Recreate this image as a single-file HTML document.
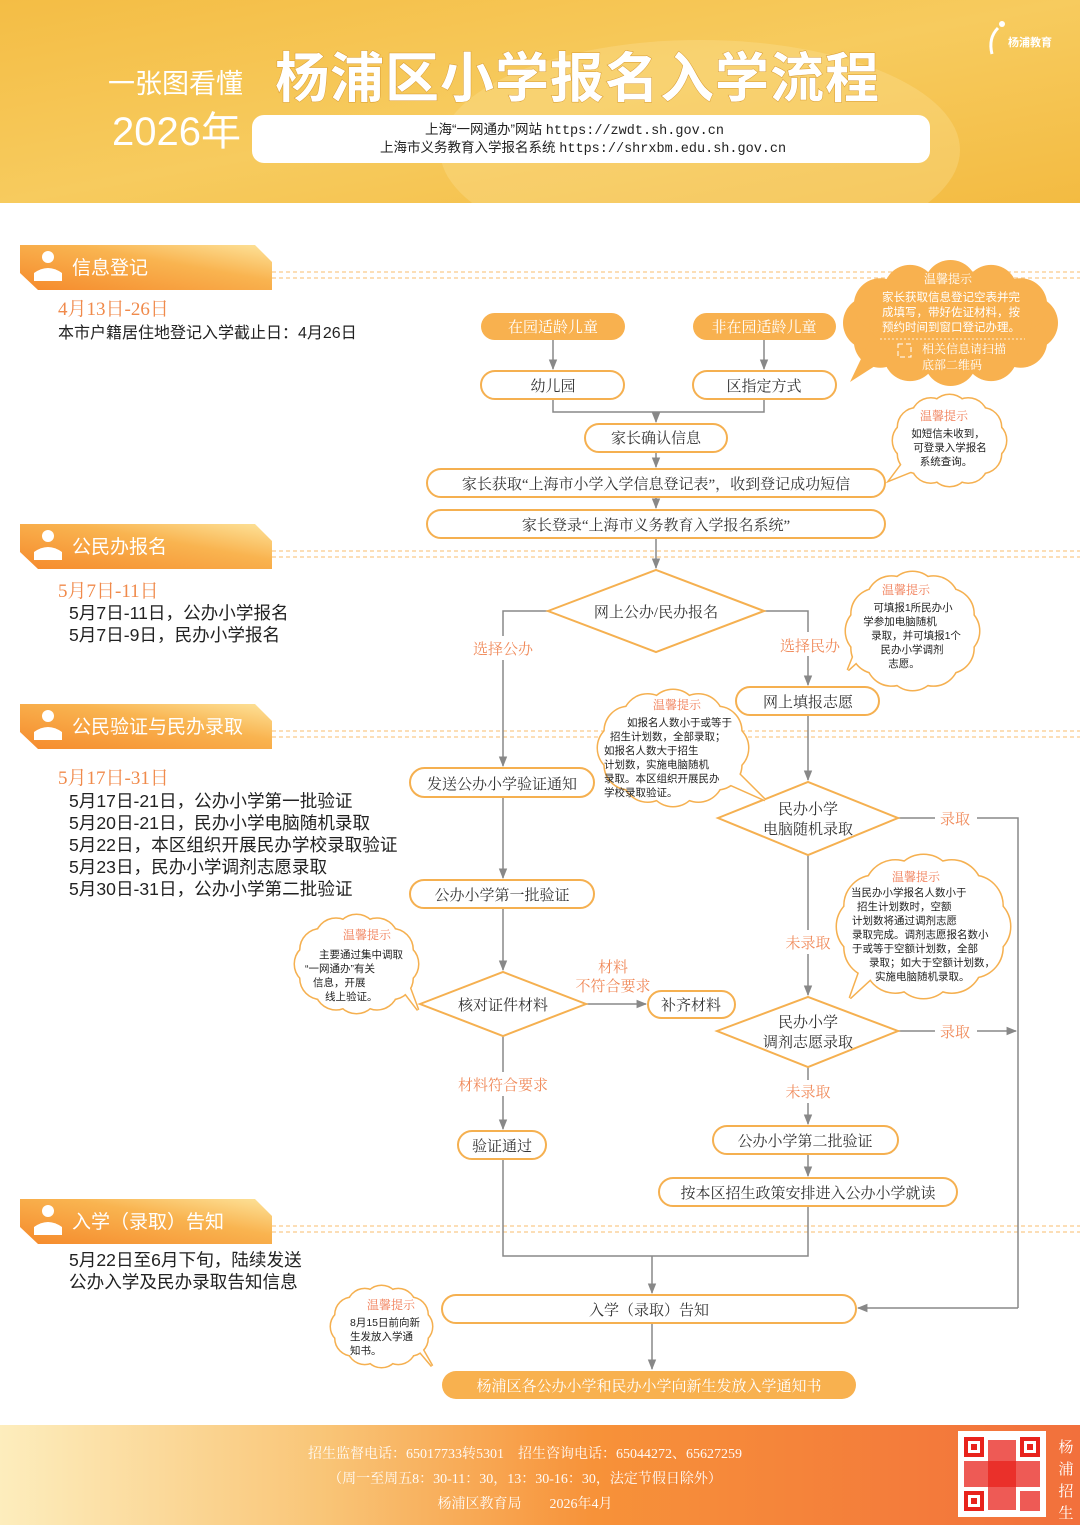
<!DOCTYPE html>
<html><head><meta charset="utf-8">
<style>
html,body{margin:0;padding:0;background:#fff;}
svg{display:block;}
.s{font-family:"Liberation Serif","Noto Serif CJK SC",serif;}
.k{font-family:"Liberation Sans","Noto Sans CJK SC",sans-serif;}
.n{font-size:15px;fill:#333;text-anchor:middle;}
.lab{font-size:15px;fill:#f08a5a;text-anchor:middle;}
.tip{font-size:12px;fill:#f07850;text-anchor:middle;}
.tt{font-size:10.5px;fill:#222;}
</style></head><body>
<svg width="1080" height="1525" viewBox="0 0 1080 1525" xmlns="http://www.w3.org/2000/svg">
<defs>
<linearGradient id="hdr" x1="0" y1="0" x2="1" y2="1">
<stop offset="0" stop-color="#f4bd45"/><stop offset="0.5" stop-color="#f7cb5e"/><stop offset="1" stop-color="#f3bb42"/></linearGradient>
<linearGradient id="ftr" x1="0" y1="0" x2="1" y2="0">
<stop offset="0" stop-color="#fdedbd"/><stop offset="0.3" stop-color="#f9c577"/><stop offset="0.55" stop-color="#f79239"/><stop offset="1" stop-color="#f2703c"/></linearGradient>
<linearGradient id="tab" x1="0" y1="1" x2="1" y2="0">
<stop offset="0" stop-color="#f58a2c"/><stop offset="0.6" stop-color="#f9b450"/><stop offset="1" stop-color="#fde39a"/></linearGradient>
<marker id="a" viewBox="0 0 10 10" refX="9" refY="5" markerWidth="7" markerHeight="7" orient="auto"><path d="M0,1 L10,5 L0,9 z" fill="#888"/></marker>
<clipPath id="hc"><rect x="0" y="0" width="1080" height="203"/></clipPath>
</defs>

<!-- header -->
<rect x="0" y="0" width="1080" height="203" fill="url(#hdr)"/>
<ellipse cx="700" cy="150" rx="260" ry="110" fill="#fbe3a0" opacity="0.3" clip-path="url(#hc)"/>
<text x="108" y="93" class="k" font-size="27" fill="#fff">一张图看懂</text>
<text x="112" y="145" class="k" font-size="40" fill="#fff">2026年</text>
<text x="275" y="97" class="k" font-size="54" font-weight="bold" fill="#fff" letter-spacing="1" style="paint-order:stroke" stroke="#d89a30" stroke-width="1">杨浦区小学报名入学流程</text>
<rect x="252" y="115" width="678" height="48" rx="12" fill="#fff"/>
<text x="425" y="134" class="k" font-size="13.5" fill="#222">上海“一网通办”网站 <tspan font-family="Liberation Mono,monospace">https://zwdt.sh.gov.cn</tspan></text>
<text x="380" y="152" class="k" font-size="13.5" fill="#222">上海市义务教育入学报名系统 <tspan font-family="Liberation Mono,monospace">https://shrxbm.edu.sh.gov.cn</tspan></text>
<text x="1008" y="46" class="k" font-size="11" font-weight="bold" fill="#fff">杨浦教育</text>
<path d="M998,28 q-10,10 -6,26" stroke="#fff" stroke-width="3" fill="none"/>
<circle cx="1002" cy="24" r="3" fill="#fff"/>

<!-- tabs -->
<g id="tabs">
<g transform="translate(0,245)"><path d="M20,0 H255 L272,17 V45 H38 L20,28 Z" fill="url(#tab)"/><circle cx="48" cy="12" r="6" fill="#fff"/><path d="M34,28 q14,-10 28,0 v8 h-28z" fill="#fff"/><text x="72" y="29" class="k" font-size="19" fill="#fff">信息登记</text></g>
<g transform="translate(0,524)"><path d="M20,0 H255 L272,17 V45 H38 L20,28 Z" fill="url(#tab)"/><circle cx="48" cy="12" r="6" fill="#fff"/><path d="M34,28 q14,-10 28,0 v8 h-28z" fill="#fff"/><text x="72" y="29" class="k" font-size="19" fill="#fff">公民办报名</text></g>
<g transform="translate(0,704)"><path d="M20,0 H255 L272,17 V45 H38 L20,28 Z" fill="url(#tab)"/><circle cx="48" cy="12" r="6" fill="#fff"/><path d="M34,28 q14,-10 28,0 v8 h-28z" fill="#fff"/><text x="72" y="29" class="k" font-size="19" fill="#fff">公民验证与民办录取</text></g>
<g transform="translate(0,1199)"><path d="M20,0 H255 L272,17 V45 H38 L20,28 Z" fill="url(#tab)"/><circle cx="48" cy="12" r="6" fill="#fff"/><path d="M34,28 q14,-10 28,0 v8 h-28z" fill="#fff"/><text x="72" y="29" class="k" font-size="19" fill="#fff">入学（录取）告知</text></g>
</g>
<g stroke="#f9c98a" stroke-width="1.3" stroke-dasharray="4,3">
<line x1="272" y1="272" x2="1080" y2="272"/><line x1="272" y1="278" x2="1080" y2="278"/>
<line x1="272" y1="551" x2="1080" y2="551"/><line x1="272" y1="557" x2="1080" y2="557"/>
<line x1="272" y1="731" x2="1080" y2="731"/><line x1="272" y1="737" x2="1080" y2="737"/>
<line x1="272" y1="1226" x2="1080" y2="1226"/><line x1="272" y1="1232" x2="1080" y2="1232"/>
</g>

<!-- left texts -->
<g class="s" font-size="19" fill="#f08a4b">
<text x="58" y="315">4月13日-26日</text>
<text x="58" y="597">5月7日-11日</text>
<text x="58" y="784">5月17日-31日</text>
</g>
<g class="k" font-size="16" fill="#222">
<text x="58" y="338">本市户籍居住地登记入学截止日：4月26日</text>
<text x="69" y="619" font-size="17.6">5月7日-11日，公办小学报名</text>
<text x="69" y="641" font-size="17.6">5月7日-9日，民办小学报名</text>
<text x="69" y="807" font-size="17.6">5月17日-21日，公办小学第一批验证</text>
<text x="69" y="829" font-size="17.6">5月20日-21日，民办小学电脑随机录取</text>
<text x="69" y="851" font-size="17.6">5月22日，本区组织开展民办学校录取验证</text>
<text x="69" y="873" font-size="17.6">5月23日，民办小学调剂志愿录取</text>
<text x="69" y="895" font-size="17.6">5月30日-31日，公办小学第二批验证</text>
<text x="69" y="1266" font-size="17.6">5月22日至6月下旬，陆续发送</text>
<text x="69" y="1288" font-size="17.6">公办入学及民办录取告知信息</text>
</g>

<!-- connectors -->
<g stroke="#888" stroke-width="1.5" fill="none">
<line x1="553" y1="340" x2="553" y2="369" marker-end="url(#a)"/>
<line x1="764" y1="340" x2="764" y2="369" marker-end="url(#a)"/>
<polyline points="553,399 553,412 764,412 764,399"/>
<line x1="656" y1="412" x2="656" y2="422" marker-end="url(#a)"/>
<line x1="656" y1="452" x2="656" y2="467" marker-end="url(#a)"/>
<line x1="656" y1="497" x2="656" y2="508" marker-end="url(#a)"/>
<line x1="656" y1="538" x2="656" y2="568" marker-end="url(#a)"/>
<polyline points="548,611 503,611 503,636"/><line x1="503" y1="660" x2="503" y2="766" marker-end="url(#a)"/>
<polyline points="764,611 808,611 808,632"/><line x1="808" y1="656" x2="808" y2="685" marker-end="url(#a)"/>
<line x1="808" y1="715" x2="808" y2="780" marker-end="url(#a)"/>
<polyline points="898,818 935,818"/><polyline points="977,818 1018,818 1018,1308"/>
<line x1="1018" y1="1308" x2="858" y2="1308" marker-end="url(#a)"/>
<line x1="503" y1="797" x2="503" y2="878" marker-end="url(#a)"/>
<line x1="503" y1="908" x2="503" y2="970" marker-end="url(#a)"/>
<line x1="586" y1="1004" x2="646" y2="1004" marker-end="url(#a)"/>
<line x1="503" y1="1036" x2="503" y2="1072"/><line x1="503" y1="1096" x2="503" y2="1129" marker-end="url(#a)"/>
<line x1="808" y1="855" x2="808" y2="930"/><line x1="808" y1="954" x2="808" y2="995" marker-end="url(#a)"/>
<polyline points="898,1031 935,1031"/><line x1="977" y1="1031" x2="1016" y2="1031" marker-end="url(#a)"/>
<line x1="808" y1="1067" x2="808" y2="1080"/><line x1="808" y1="1103" x2="808" y2="1124" marker-end="url(#a)"/>
<line x1="808" y1="1154" x2="808" y2="1176" marker-end="url(#a)"/>
<polyline points="503,1159 503,1256 808,1256 808,1206"/>
<line x1="652" y1="1256" x2="652" y2="1293" marker-end="url(#a)"/>
<line x1="652" y1="1323" x2="652" y2="1369" marker-end="url(#a)"/>
</g>

<!-- nodes -->
<g stroke="#f5b050" stroke-width="2" fill="#fff">
<rect x="481" y="313" width="144" height="27" rx="13.5" fill="#f8b14f" stroke="none"/>
<rect x="693" y="313" width="143" height="27" rx="13.5" fill="#f8b14f" stroke="none"/>
<rect x="481" y="371" width="143" height="28" rx="14"/>
<rect x="693" y="371" width="143" height="28" rx="14"/>
<rect x="585" y="424" width="142" height="28" rx="14"/>
<rect x="427" y="469" width="458" height="28" rx="14"/>
<rect x="427" y="510" width="458" height="28" rx="14"/>
<polygon points="548,611 656,570 764,611 656,652"/>
<rect x="736" y="687" width="143" height="28" rx="14"/>
<rect x="410" y="768" width="184" height="29" rx="14.5"/>
<polygon points="718,818 808,782 898,818 808,855"/>
<rect x="410" y="880" width="184" height="28" rx="14"/>
<polygon points="420,1004 503,972 586,1004 503,1036"/>
<rect x="648" y="991" width="87" height="27" rx="13.5"/>
<rect x="458" y="1131" width="88" height="28" rx="14"/>
<polygon points="717,1031 808,997 898,1031 808,1067"/>
<rect x="713" y="1126" width="185" height="28" rx="14"/>
<rect x="659" y="1178" width="298" height="28" rx="14"/>
<rect x="442" y="1295" width="414" height="28" rx="14"/>
<rect x="442" y="1371" width="414" height="28" rx="14" fill="#f8b14f" stroke="none"/>
</g>
<g class="s">
<text x="553" y="332" class="n" style="fill:#fff">在园适龄儿童</text>
<text x="764" y="332" class="n" style="fill:#fff">非在园适龄儿童</text>
<text x="553" y="391" class="n">幼儿园</text>
<text x="764" y="391" class="n">区指定方式</text>
<text x="656" y="443" class="n">家长确认信息</text>
<text x="656" y="489" class="n">家长获取“上海市小学入学信息登记表”，收到登记成功短信</text>
<text x="656" y="530" class="n">家长登录“上海市义务教育入学报名系统”</text>
<text x="656" y="617" class="n">网上公办/民办报名</text>
<text x="808" y="707" class="n">网上填报志愿</text>
<text x="502" y="789" class="n">发送公办小学验证通知</text>
<text x="808" y="814" class="n">民办小学</text>
<text x="808" y="834" class="n">电脑随机录取</text>
<text x="502" y="900" class="n">公办小学第一批验证</text>
<text x="503" y="1010" class="n">核对证件材料</text>
<text x="691" y="1010" class="n">补齐材料</text>
<text x="502" y="1151" class="n">验证通过</text>
<text x="808" y="1027" class="n">民办小学</text>
<text x="808" y="1047" class="n">调剂志愿录取</text>
<text x="805" y="1146" class="n">公办小学第二批验证</text>
<text x="808" y="1198" class="n">按本区招生政策安排进入公办小学就读</text>
<text x="649" y="1315" class="n">入学（录取）告知</text>
<text x="649" y="1391" class="n" style="fill:#fff">杨浦区各公办小学和民办小学向新生发放入学通知书</text>
<text x="503" y="654" class="lab">选择公办</text>
<text x="810" y="651" class="lab">选择民办</text>
<text x="955" y="824" class="lab">录取</text>
<text x="613" y="972" class="lab">材料</text>
<text x="613" y="991" class="lab">不符合要求</text>
<text x="503" y="1090" class="lab">材料符合要求</text>
<text x="808" y="948" class="lab">未录取</text>
<text x="955" y="1037" class="lab">录取</text>
<text x="808" y="1097" class="lab">未录取</text>
</g>

<!-- clouds -->
<g id="clouds"></g>

<!-- cloud texts -->
<g class="s">
<text x="948" y="283" class="tip" style="fill:#fff">温馨提示</text>
<g class="k" font-size="11.5" fill="#fff" text-anchor="middle">
<text x="951" y="301">家长获取信息登记空表并完</text>
<text x="951" y="316">成填写，带好佐证材料，按</text>
<text x="951" y="331">预约时间到窗口登记办理。</text>
</g>
<line x1="880" y1="339" x2="1025" y2="339" stroke="#fff" stroke-dasharray="2,2" opacity="0.8"/>
<text x="922" y="353" font-size="12" fill="#fff">相关信息请扫描</text>
<text x="922" y="369" font-size="12" fill="#fff">底部二维码</text>
<rect x="898" y="344" width="13" height="13" fill="none" stroke="#fff" stroke-dasharray="5,3"/>

<text x="944" y="420" class="tip">温馨提示</text>
<g class="k tt" text-anchor="middle"><text x="948" y="437">如短信未收到，</text><text x="950" y="451">可登录入学报名</text><text x="946" y="465">系统查询。</text></g>

<text x="906" y="594" class="tip">温馨提示</text>
<g class="k tt" text-anchor="middle"><text x="913" y="611">可填报1所民办小</text><text x="900" y="625">学参加电脑随机</text><text x="916" y="639">录取，并可填报1个</text><text x="912" y="653">民办小学调剂</text><text x="904" y="667">志愿。</text></g>

<text x="677" y="709" class="tip">温馨提示</text>
<g class="k tt"><text x="627" y="726">如报名人数小于或等于</text><text x="610" y="740">招生计划数，全部录取；</text><text x="604" y="754">如报名人数大于招生</text><text x="604" y="768">计划数，实施电脑随机</text><text x="604" y="782">录取。本区组织开展民办</text><text x="604" y="796">学校录取验证。</text></g>

<text x="916" y="881" class="tip">温馨提示</text>
<g class="k tt"><text x="851" y="896">当民办小学报名人数小于</text><text x="857" y="910">招生计划数时，空额</text><text x="852" y="924">计划数将通过调剂志愿</text><text x="852" y="938">录取完成。调剂志愿报名数小</text><text x="852" y="952">于或等于空额计划数，全部</text><text x="869" y="966">录取；如大于空额计划数，</text><text x="875" y="980">实施电脑随机录取。</text></g>

<text x="367" y="939" class="tip">温馨提示</text>
<g class="k tt"><text x="319" y="958">主要通过集中调取</text><text x="305" y="972">“一网通办”有关</text><text x="313" y="986">信息，开展</text><text x="325" y="1000">线上验证。</text></g>

<text x="391" y="1309" class="tip">温馨提示</text>
<g class="k tt"><text x="350" y="1326">8月15日前向新</text><text x="350" y="1340">生发放入学通</text><text x="350" y="1354">知书。</text></g>
</g>

<!-- footer -->
<rect x="0" y="1425" width="1080" height="100" fill="url(#ftr)"/>
<g class="s" fill="#fff" font-size="14" text-anchor="middle" opacity="0.95">
<text x="525" y="1458">招生监督电话：65017733转5301　招生咨询电话：65044272、65627259</text>
<text x="525" y="1483">（周一至周五8：30-11：30，13：30-16：30，法定节假日除外）</text>
<text x="525" y="1508">杨浦区教育局　　2026年4月</text>
</g>
<rect x="958" y="1431" width="88" height="86" fill="#fff"/>
<g fill="#e8231c">
<rect x="964" y="1437" width="20" height="20"/><rect x="1020" y="1437" width="20" height="20"/><rect x="964" y="1491" width="20" height="20"/>
<rect x="988" y="1440" width="28" height="70" opacity="0.75"/><rect x="964" y="1461" width="76" height="26" opacity="0.75"/><rect x="1020" y="1491" width="20" height="20" opacity="0.75"/>
</g>
<g fill="#fff"><rect x="968" y="1441" width="12" height="12"/><rect x="1024" y="1441" width="12" height="12"/><rect x="968" y="1495" width="12" height="12"/></g>
<g fill="#e8231c"><rect x="971" y="1444" width="6" height="6"/><rect x="1027" y="1444" width="6" height="6"/><rect x="971" y="1498" width="6" height="6"/></g>
<g class="s" fill="#fff" font-size="15" text-anchor="middle"><text x="1066" y="1452">杨</text><text x="1066" y="1474">浦</text><text x="1066" y="1496">招</text><text x="1066" y="1518">生</text></g>
</svg>
<script>
(function(){
var NS="http://www.w3.org/2000/svg",g=document.getElementById('clouds');
function cloud(x1,y1,x2,y2,fill,tail){
 var cx=(x1+x2)/2,cy=(y1+y2)/2,a=(x2-x1)/2,b=(y2-y1)/2,r=Math.min(a,b)*0.42,N=12,cs=[];
 for(var i=0;i<N;i++){var t=i/N*2*Math.PI;cs.push([cx+(a-r)*Math.cos(t),cy+(b-r)*Math.sin(t),r]);}
 var grp=document.createElementNS(NS,'g');
 function add(pass){
  cs.forEach(function(c){var e=document.createElementNS(NS,'circle');e.setAttribute('cx',c[0]);e.setAttribute('cy',c[1]);e.setAttribute('r',c[2]);
   if(pass){e.setAttribute('fill',fill);}else{e.setAttribute('fill','none');e.setAttribute('stroke',fill=='#fff'?'#f5b050':fill);e.setAttribute('stroke-width',fill=='#fff'?3:0);}
   grp.appendChild(e);});
  var el=document.createElementNS(NS,'ellipse');el.setAttribute('cx',cx);el.setAttribute('cy',cy);el.setAttribute('rx',a-r);el.setAttribute('ry',b-r);el.setAttribute('fill',pass?fill:'none');grp.appendChild(el);
  if(tail){var p=document.createElementNS(NS,'polygon');p.setAttribute('points',tail);
   if(pass)p.setAttribute('fill',fill);else{p.setAttribute('fill','none');p.setAttribute('stroke',fill=='#fff'?'#f5b050':fill);p.setAttribute('stroke-width',fill=='#fff'?3:0);}
   grp.appendChild(p);}
 }
 add(false);add(true);g.appendChild(grp);
}
cloud(843,260,1058,386,'#f8b14f',"870,340 900,350 850,382");
cloud(893,395,1006,486,'#fff',"905,460 915,470 890,480");
cloud(846,572,979,690,'#fff',"860,640 870,650 848,670");
cloud(598,690,748,806,'#fff',"720,780 735,770 765,800");
cloud(837,855,1010,998,'#fff',"860,970 875,975 850,998");
cloud(295,915,418,1013,'#fff',"395,980 405,975 418,1010");
cloud(331,1286,432,1367,'#fff',"410,1340 420,1345 432,1366");
})();
</script>
</body></html>
